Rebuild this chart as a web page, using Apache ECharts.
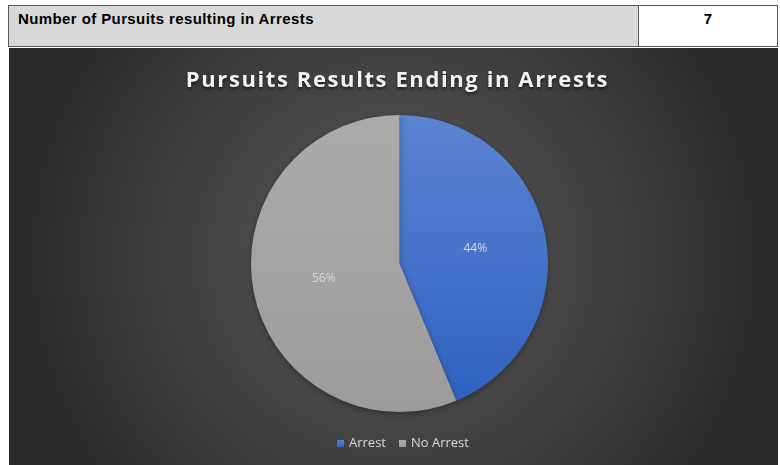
<!DOCTYPE html>
<html>
<head>
<meta charset="utf-8">
<script src="https://cdn.jsdelivr.net/npm/echarts@6/dist/echarts.min.js"></script>
<style>
  body { margin: 0; width: 780px; height: 465px; background: #fff; position: relative; overflow: hidden; }
  .row { position: absolute; left: 8px; top: 5px; width: 770px; height: 42px; border: 1px solid #595959; box-sizing: border-box; display: flex; }
  .row .label { width: 630px; background: #d9d9d9; border-right: 1px solid #595959; font: bold 15px "Liberation Sans", Arial, sans-serif; letter-spacing: 0.4px; color: #000; padding: 4px 0 0 9px; box-sizing: border-box; }
  .row .value { flex: 1; background: #fff; font: bold 15px "Liberation Sans", Arial, sans-serif; text-align: center; padding-top: 4px; }
  #chart { position: absolute; left: 9px; top: 48px; width: 769px; height: 417px; }
  .title { position: absolute; left: 13px; top: 64px; width: 769px; text-align: center; font: bold 22px "Open Sans", sans-serif; letter-spacing: 1.6px; color: #f2f2f2; text-shadow: 0 2px 3px rgba(0,0,0,0.6); line-height: 28px; pointer-events: none; }
</style>
</head>
<body>
<div class="row">
  <div class="label">Number of Pursuits resulting in Arrests</div>
  <div class="value">7</div>
</div>
<div id="chart"></div>
<div class="title">Pursuits Results Ending in Arrests</div>
<script>
const categories = ['Arrest', 'No Arrest'];
const counts = [7, 9];
const colors = ['#4472c4', '#a5a5a5'];

const chart = echarts.init(document.getElementById('chart'));

function shade(top, bottom) {
  return { type: 'linear', x: 0, y: 0, x2: 0, y2: 1, colorStops: [{ offset: 0, color: top }, { offset: 1, color: bottom }] };
}
const fills = [shade('#5b84d1', '#2f62c1'), shade('#ababab', '#9c9c9c')];

chart.setOption({
  backgroundColor: {
    type: 'radial', x: 0.5, y: 0.5, r: 0.9,
    colorStops: [
      { offset: 0, color: '#5c5c5c' },
      { offset: 1, color: '#2a2a2a' }
    ]
  },
  legend: {
    bottom: 10,
    left: 323,
    itemWidth: 7, itemHeight: 7, itemGap: 13,
    icon: 'rect',
    textStyle: { color: '#d9d9d9', fontSize: 13, fontFamily: 'Open Sans' },
    data: categories
  },
  series: [{
    type: 'pie',
    center: [390.5, 215.5],
    radius: 148.5,
    startAngle: 90,
    clockwise: true,
    silent: true,
    itemStyle: { shadowColor: 'rgba(0,0,0,0.35)', shadowBlur: 6, shadowOffsetY: 2 },
    label: {
      position: 'inside',
      formatter: p => Math.round(p.percent) + '%',
      color: '#d9d9d9', fontSize: 12, fontFamily: 'Open Sans'
    },
    labelLine: { show: false },
    data: categories.map((c, i) => ({ name: c, value: counts[i], itemStyle: { color: fills[i] } }))
  }]
});
</script>
</body>
</html>
